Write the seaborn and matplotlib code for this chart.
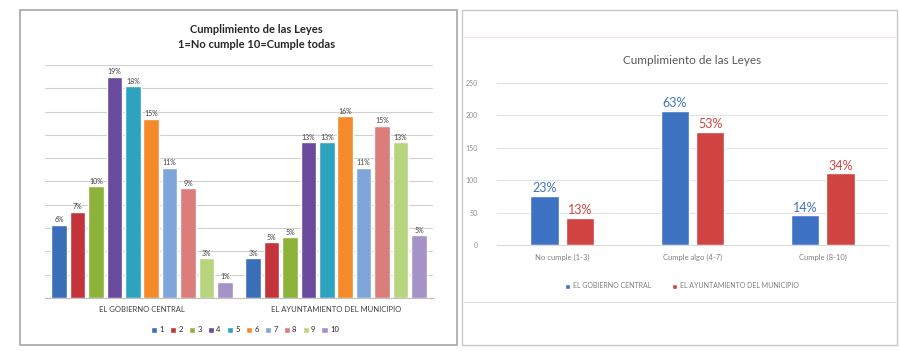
import pandas as pd
import seaborn as sns
import matplotlib.pyplot as plt
from matplotlib.patches import Rectangle
from matplotlib.lines import Line2D

# Left chart data: percentage per score (1..10)
entidades = ['EL GOBIERNO CENTRAL', 'EL AYUNTAMIENTO DEL MUNICIPIO']
puntos = ['1', '2', '3', '4', '5', '6', '7', '8', '9', '10']
pct_gobierno = [6.3, 7.4, 9.6, 19.0, 18.2, 15.4, 11.2, 9.4, 3.4, 1.4]
pct_ayto = [3.4, 4.8, 5.2, 13.4, 13.4, 15.6, 11.2, 14.8, 13.4, 5.4]

# Right chart data: counts per group
grupos = ['No cumple (1-3)', 'Cumple algo (4-7)', 'Cumple (8-10)']
n_gobierno = [76, 207, 46]
n_ayto = [42, 175, 111]

colores_10 = ['#3A6FB7', '#C2343A', '#8DB33B', '#6A4A9C', '#2EA3BF',
              '#F58A2A', '#7FA6DA', '#DB7D7B', '#B6D57E', '#A592C6']
colores_2 = ['#3E73C4', '#CF4441']

sns.set_style('white')
plt.rcParams['font.family'] = ['Lato', 'DejaVu Sans']

fig = plt.figure(figsize=(9, 3.51), dpi=100)

def fx(px):
    return px / 900

def fy(py):
    return 1 - py / 351

# panel frames
fig.patches.append(Rectangle((fx(20), fy(345)), fx(437), 335 / 351, transform=fig.transFigure,
                             fill=False, edgecolor='#A6A6A6', linewidth=1.2))
fig.patches.append(Rectangle((fx(462), fy(345)), fx(435), 335 / 351, transform=fig.transFigure,
                             fill=False, edgecolor='#C8C8C8', linewidth=1.0))
fig.lines.append(Line2D([fx(464), fx(895)], [fy(37), fy(37)], transform=fig.transFigure,
                        color='#F4E4E4', linewidth=0.8))
fig.lines.append(Line2D([fx(464), fx(895)], [fy(302), fy(302)], transform=fig.transFigure,
                        color='#DDDDDD', linewidth=0.8))

# ---- Left chart ----
df1 = pd.DataFrame({
    'entidad': [e for e in entidades for _ in puntos],
    'punto': puntos * 2,
    'pct': pct_gobierno + pct_ayto,
})
ax1 = fig.add_axes([fx(45), fy(298), fx(388), 233 / 351])
sns.barplot(data=df1, x='entidad', y='pct', hue='punto', hue_order=puntos, order=entidades,
            palette=colores_10, saturation=1, width=0.95, gap=0.15, ax=ax1, legend=True)
ax1.set_ylim(0, 20)
ax1.set_yticks(range(0, 21, 2))
ax1.yaxis.grid(True, color='#D0D0D0', linewidth=0.8)
ax1.set_axisbelow(True)
ax1.tick_params(axis='y', left=False, labelleft=False)
ax1.tick_params(axis='x', length=0, labelsize=5.5, colors='#404040', pad=6)
ax1.set_xlabel('')
ax1.set_ylabel('')
for s in ['top', 'right', 'left']:
    ax1.spines[s].set_visible(False)
ax1.spines['bottom'].set_color('#BFBFBF')
for c in ax1.containers:
    ax1.bar_label(c, fmt='{:.0f}%', fontsize=5, color='#404040', padding=1, clip_on=False)
ax1.text(0.545, 1.12, 'Cumplimiento de las Leyes\n1=No cumple 10=Cumple todas',
         transform=ax1.transAxes, ha='center', va='center', fontsize=8, fontweight='bold',
         color='#262626', linespacing=1.4)
ax1.legend(loc='center', bbox_to_anchor=(fx(245), fy(330)), bbox_transform=fig.transFigure,
           ncol=10, frameon=False, fontsize=5.5, handlelength=0.8, handleheight=0.8,
           handletextpad=0.3, columnspacing=0.8)

# ---- Right chart ----
df2 = pd.DataFrame({
    'grupo': grupos * 2,
    'entidad': [entidades[0]] * 3 + [entidades[1]] * 3,
    'n': n_gobierno + n_ayto,
})
ax2 = fig.add_axes([fx(497), fy(245), fx(391), 162 / 351])
sns.barplot(data=df2, x='grupo', y='n', hue='entidad', hue_order=entidades, order=grupos,
            palette=colores_2, saturation=1, width=0.54, gap=0.2, ax=ax2, legend=True)
ax2.set_ylim(0, 250)
ax2.set_yticks(range(0, 251, 50))
ax2.yaxis.grid(True, color='#E3E3E3', linewidth=0.8)
ax2.set_axisbelow(True)
ax2.tick_params(axis='y', length=0, labelsize=5, colors='#909090', pad=14)
ax2.tick_params(axis='x', length=0, labelsize=5.5, colors='#808080', pad=6)
ax2.set_xlabel('')
ax2.set_ylabel('')
for s in ['top', 'right', 'left']:
    ax2.spines[s].set_visible(False)
ax2.spines['bottom'].set_color('#D9D9D9')
for c, vals, col in zip(ax2.containers, [n_gobierno, n_ayto], colores_2):
    total = sum(vals)
    ax2.bar_label(c, labels=[f'{v / total * 100:.0f}%' for v in vals], fontsize=9,
                  color=col, padding=1)
ax2.set_title('Cumplimiento de las Leyes', fontsize=8.5, color='#595959', pad=14)
ax2.legend(loc='center', bbox_to_anchor=(fx(682), fy(286)), bbox_transform=fig.transFigure,
           ncol=2, frameon=False, fontsize=5, handlelength=0.7, handleheight=0.7,
           handletextpad=0.4, columnspacing=3, labelcolor='#808080')

fig.savefig('out.png', dpi=100, facecolor='white')
